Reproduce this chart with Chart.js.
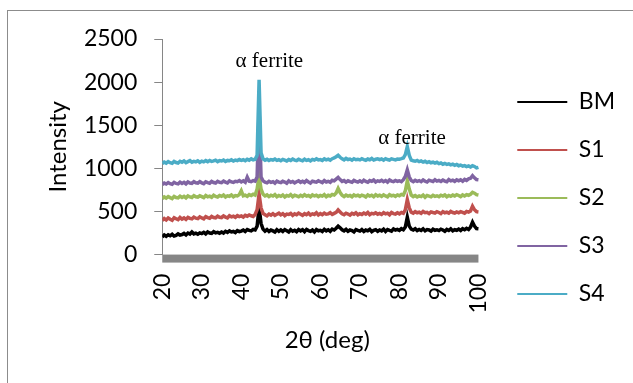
<!DOCTYPE html>
<html>
<head>
<meta charset="utf-8">
<script src="https://cdn.jsdelivr.net/npm/chart.js@4.4.1/dist/chart.umd.min.js"></script>
<style>
    html, body { margin: 0; padding: 0; background: #fff; overflow: hidden; }
    #frame { position: absolute; left: 7px; top: 10px; width: 700px; height: 500px; border: 1px solid #8c8c8c; }
    #wrap { position: absolute; left: 0; top: 0; width: 633px; height: 383px; }
</style>
</head>
<body>
<div id="frame"></div>
<div id="wrap"><canvas id="xrdChart"></canvas></div>
<script>
// 2θ sampling (deg)
const twoTheta = [
    20, 20.5, 21, 21.5, 22, 22.5, 23, 23.5, 24, 24.5,
    25, 25.5, 26, 26.5, 27, 27.5, 28, 28.5, 29, 29.5,
    30, 30.5, 31, 31.5, 32, 32.5, 33, 33.5, 34, 34.5,
    35, 35.5, 36, 36.5, 37, 37.5, 38, 38.5, 39, 39.5,
    40, 40.5, 41, 41.5, 42, 42.5, 43, 43.5, 44, 44.5,
    45, 45.5, 46, 46.5, 47, 47.5, 48, 48.5, 49, 49.5,
    50, 50.5, 51, 51.5, 52, 52.5, 53, 53.5, 54, 54.5,
    55, 55.5, 56, 56.5, 57, 57.5, 58, 58.5, 59, 59.5,
    60, 60.5, 61, 61.5, 62, 62.5, 63, 63.5, 64, 64.5,
    65, 65.5, 66, 66.5, 67, 67.5, 68, 68.5, 69, 69.5,
    70, 70.5, 71, 71.5, 72, 72.5, 73, 73.5, 74, 74.5,
    75, 75.5, 76, 76.5, 77, 77.5, 78, 78.5, 79, 79.5,
    80, 80.5, 81, 81.5, 82, 82.5, 83, 83.5, 84, 84.5,
    85, 85.5, 86, 86.5, 87, 87.5, 88, 88.5, 89, 89.5,
    90, 90.5, 91, 91.5, 92, 92.5, 93, 93.5, 94, 94.5,
    95, 95.5, 96, 96.5, 97, 97.5, 98, 98.5, 99, 99.5,
    100
];

const bm = [
    205, 228, 212, 230, 218, 235, 215, 222, 240, 226,
    232, 245, 228, 250, 238, 262, 240, 248, 236, 252,
    244, 258, 240, 262, 250, 245, 266, 252, 258, 248,
    262, 250, 270, 258, 275, 262, 268, 255, 278, 266,
    272, 285, 268, 290, 280, 275, 292, 285, 330, 549,
    360, 295, 272, 290, 268, 285, 275, 262, 288, 270,
    285, 268, 290, 276, 262, 288, 270, 282, 265, 290,
    275, 288, 266, 292, 278, 270, 285, 262, 290, 276,
    282, 268, 292, 275, 288, 270, 295, 285, 305, 330,
    310, 288, 275, 292, 270, 285, 278, 262, 290, 280,
    272, 290, 268, 285, 276, 292, 265, 282, 288, 270,
    285, 275, 295, 268, 290, 280, 272, 298, 285, 292,
    280, 300, 288, 320, 434, 330, 295, 285, 300, 278,
    292, 280, 298, 275, 290, 285, 272, 295, 282, 288,
    278, 295, 285, 270, 292, 280, 298, 275, 288, 282,
    295, 280, 300, 288, 305, 292, 320, 376, 330, 302,
    300
];

const s1 = [
    395, 418, 402, 425, 410, 398, 428, 415, 405, 430,
    412, 425, 408, 432, 420, 415, 435, 422, 418, 438,
    425, 415, 440, 428, 420, 442, 430, 425, 445, 432,
    428, 448, 435, 425, 450, 438, 445, 432, 452, 440,
    448, 435, 455, 445, 460, 450, 442, 465, 520, 703,
    540, 478, 462, 450, 470, 458, 475, 455, 468, 480,
    460, 475, 452, 470, 465, 478, 455, 472, 462, 480,
    468, 455, 475, 462, 480, 458, 472, 465, 485, 460,
    475, 462, 480, 468, 472, 485, 465, 478, 490, 518,
    495, 472, 462, 480, 470, 458, 478, 468, 485, 462,
    475, 465, 482, 470, 488, 462, 478, 472, 485, 468,
    478, 465, 485, 472, 480, 462, 488, 475, 470, 485,
    472, 488, 478, 520, 637, 540, 492, 480, 498, 485,
    492, 478, 500, 485, 490, 475, 495, 488, 482, 498,
    488, 475, 498, 485, 492, 480, 500, 488, 482, 495,
    485, 498, 490, 480, 500, 492, 505, 561, 520, 498,
    495
];

const s2 = [
    648, 668, 655, 672, 660, 650, 675, 662, 658, 678,
    662, 675, 658, 680, 668, 662, 684, 670, 665, 682,
    672, 660, 685, 670, 678, 665, 688, 674, 668, 685,
    675, 690, 668, 682, 676, 692, 670, 685, 680, 695,
    740, 682, 690, 675, 695, 685, 700, 690, 760, 914,
    760, 700, 680, 692, 672, 688, 678, 695, 670, 685,
    675, 690, 668, 685, 678, 695, 672, 688, 680, 670,
    688, 675, 695, 678, 685, 670, 692, 680, 688, 672,
    685, 678, 695, 672, 688, 680, 698, 690, 715, 768,
    720, 688, 672, 690, 678, 685, 670, 692, 680, 688,
    675, 690, 682, 668, 692, 678, 688, 672, 695, 680,
    688, 675, 692, 680, 670, 695, 682, 688, 675, 692,
    683, 698, 690, 740, 856, 760, 690, 672, 685, 668,
    680, 672, 690, 665, 685, 678, 670, 688, 675, 682,
    672, 688, 678, 692, 670, 685, 675, 690, 680, 695,
    685, 672, 692, 680, 695, 688, 700, 722, 712, 695,
    690
];

const s3 = [
    812, 830, 818, 835, 822, 815, 838, 825, 820, 840,
    825, 838, 820, 842, 830, 826, 845, 832, 828, 846,
    832, 822, 845, 835, 828, 848, 836, 830, 850, 838,
    835, 852, 840, 830, 855, 842, 836, 850, 845, 858,
    842, 855, 838, 898, 850, 845, 858, 852, 900, 1690,
    900, 855, 840, 832, 850, 838, 845, 828, 852, 840,
    835, 850, 842, 828, 855, 838, 848, 832, 845, 855,
    838, 850, 835, 858, 842, 830, 852, 845, 840, 856,
    845, 835, 858, 842, 850, 838, 862, 855, 875, 895,
    870, 848, 858, 840, 855, 845, 838, 860, 850, 842,
    855, 840, 862, 848, 838, 858, 850, 865, 842, 855,
    848, 862, 845, 858, 840, 865, 852, 846, 860, 850,
    856, 845, 868, 905, 983, 900, 858, 845, 862, 850,
    858, 845, 865, 850, 842, 862, 855, 848, 868, 852,
    860, 848, 865, 852, 845, 870, 855, 862, 848, 866,
    855, 868, 850, 872, 860, 878, 885, 914, 890, 870,
    867
];

const s4 = [
    1055, 1072, 1060, 1078, 1065, 1058, 1080, 1068, 1062, 1082,
    1070, 1085, 1066, 1078, 1090, 1072, 1082, 1075, 1088, 1070,
    1084, 1075, 1090, 1078, 1092, 1080, 1086, 1095, 1078, 1090,
    1085, 1096, 1080, 1092, 1088, 1100, 1084, 1095, 1090, 1102,
    1092, 1100, 1088, 1105, 1095, 1110, 1098, 1106, 1150, 2028,
    1180, 1110, 1095, 1105, 1090, 1102, 1096, 1108, 1092, 1100,
    1088, 1104, 1095, 1085, 1102, 1092, 1108, 1096, 1090, 1105,
    1095, 1088, 1106, 1092, 1100, 1086, 1104, 1095, 1110, 1098,
    1102, 1092, 1110, 1098, 1106, 1095, 1112, 1120, 1135, 1152,
    1128, 1110, 1098, 1115, 1102, 1108, 1095, 1112, 1100, 1106,
    1098, 1112, 1102, 1094, 1108, 1100, 1115, 1096, 1105, 1110,
    1100, 1108, 1095, 1112, 1102, 1096, 1110, 1104, 1098, 1108,
    1106, 1112, 1120, 1160, 1252, 1150, 1095, 1088, 1082, 1092,
    1078, 1086, 1072, 1082, 1068, 1078, 1065, 1072, 1060, 1070,
    1055, 1062, 1048, 1058, 1045, 1052, 1040, 1048, 1035, 1045,
    1030, 1038, 1025, 1032, 1020, 1028, 1015, 1030, 1022, 1005,
    1012
];

const seriesNames = ['BM', 'S1', 'S2', 'S3', 'S4'];
const seriesColors = ['#000000', '#c0504d', '#9bbb59', '#8064a2', '#4bacc6'];
const yTicks = [0, 500, 1000, 1500, 2000, 2500];
const xTicks = [20, 30, 40, 50, 60, 70, 80, 90, 100];
const peakLabels = ['α ferrite', 'α ferrite'];

Chart.defaults.font.family = 'Lato';
Chart.defaults.color = '#000';

const xFirst = xTicks[0];
const xLast = xTicks[xTicks.length - 1];

// thick grey category-axis band under the plot
const axisBand = {
    id: 'axisBand',
    afterDraw(chart) {
        const { ctx, chartArea, scales: { x } } = chart;
        const left = x.getPixelForValue(xFirst);
        const right = x.getPixelForValue(xLast);
        ctx.save();
        ctx.fillStyle = '#868686';
        ctx.fillRect(left, chartArea.bottom, right - left, 8);
        ctx.restore();
    }
};

const peakText = {
    id: 'peakText',
    afterDatasetsDraw(chart) {
        const { ctx, scales: { x, y } } = chart;
        ctx.save();
        ctx.font = '21px "Liberation Serif"';
        ctx.fillStyle = '#000';
        ctx.textAlign = 'center';
        ctx.textBaseline = 'middle';
        ctx.fillText(peakLabels[0], x.getPixelForValue(47.1), y.getPixelForValue(2235));
        ctx.fillText(peakLabels[1], x.getPixelForValue(83.2), y.getPixelForValue(1348));
        ctx.restore();
    }
};

const allSeries = [bm, s1, s2, s3, s4];
const datasets = allSeries.map((values, i) => ({
    label: seriesNames[i],
    data: values.map((v, j) => ({ x: twoTheta[j], y: v })),
    borderColor: seriesColors[i],
    backgroundColor: seriesColors[i],
    borderWidth: 3.5,
    pointRadius: 0,
    tension: 0,
    order: allSeries.length - i
}));

const ctx = document.getElementById('xrdChart')?.getContext('2d');

new Chart(ctx, {
    type: 'line',
    data: { datasets },
    plugins: [axisBand, peakText],
    options: {
        responsive: true,
        maintainAspectRatio: false,
        animation: false,
        layout: {
            padding: { left: 8, right: 8, top: 39, bottom: 26 }
        },
        scales: {
            y: {
                type: 'linear',
                position: 'left',
                min: yTicks[0],
                max: yTicks[yTicks.length - 1],
                afterBuildTicks: (scale) => { scale.ticks = yTicks.map(v => ({ value: v })); },
                ticks: { font: { size: 23 }, padding: 17, callback: (value) => `${value}` },
                grid: { drawOnChartArea: false, tickLength: 8, color: '#868686' },
                border: { display: true, color: '#868686' },
                title: {
                    display: true,
                    text: 'Intensity',
                    font: { size: 24 },
                    padding: { top: 35.6, bottom: 9.2 }
                }
            },
            x: {
                type: 'linear',
                min: xFirst,
                // a little room is left after 100 before the legend
                max: xLast + 3.5,
                afterBuildTicks: (scale) => { scale.ticks = xTicks.map(v => ({ value: v })); },
                ticks: { font: { size: 23 }, padding: 11, minRotation: 90, maxRotation: 90, callback: (value) => `${value}` },
                grid: { drawOnChartArea: false, tickLength: 8, color: 'rgba(0,0,0,0)' },
                border: { display: false },
                title: {
                    display: true,
                    text: '2θ (deg)',
                    font: { size: 24 },
                    padding: { top: 1, bottom: 2.6 }
                }
            }
        },
        plugins: {
            legend: {
                position: 'right',
                labels: {
                    usePointStyle: true,
                    pointStyle: 'line',
                    pointStyleWidth: 50,
                    padding: 25,
                    font: { size: 23 },
                    sort: (a, b) => a.datasetIndex - b.datasetIndex,
                    generateLabels: (chart) => Chart.defaults.plugins.legend.labels
                        .generateLabels(chart)
                        .map(item => ({ ...item, lineWidth: 2 }))
                }
            },
            tooltip: { enabled: false }
        }
    }
});
</script>
</body>
</html>
